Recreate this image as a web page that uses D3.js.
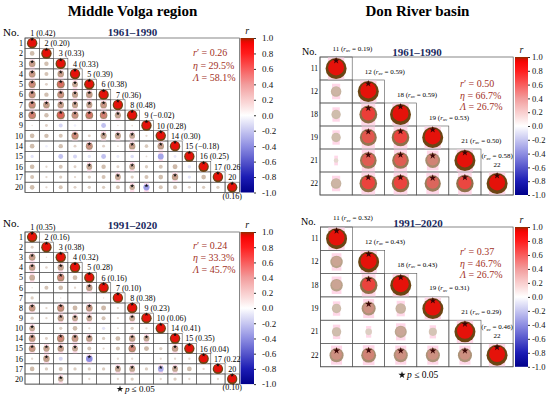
<!DOCTYPE html>
<html>
<head>
<meta charset="utf-8">
<script src="https://cdn.jsdelivr.net/npm/d3@7"></script>
<style>
body{margin:0;background:#fff;}
svg{display:block;font-family:"Liberation Serif","DejaVu Serif",serif;}
</style>
</head>
<body>
<script>
(function(){

//station numbers of each basin
var volgaStations = ["1","2","3","4","5","6","7","8","9","10","14","15","16","17","20"];
var donStations = ["11","12","18","19","21","22"];

//lower triangle of r, row k holds r with the stations before it
var volgaEarly = [
    [0.20],
    [0.40, 0.18],
    [0.42, 0.15, 0.38],
    [0.48, 0.08, 0.58, 0.32],
    [0.45, 0.18, 0.45, 0.35, 0.40],
    [0.48, 0.40, 0.38, 0.35, 0.35, 0.42],
    [0.52, 0.18, 0.62, 0.45, 0.55, 0.52, 0.35],
    [0.02, 0.08, -0.15, -0.06, 0.00, -0.22, 0.02, 0.03],
    [0.20, 0.18, 0.15, 0.48, 0.08, 0.35, 0.35, 0.32, 0.05],
    [0.20, -0.06, 0.18, 0.08, 0.45, 0.08, 0.03, 0.38, 0.12, 0.38],
    [-0.10, 0.00, -0.22, -0.15, -0.10, -0.22, -0.08, -0.12, 0.03, -0.32, -0.08],
    [0.20, 0.05, 0.15, 0.08, 0.32, 0.18, 0.08, 0.32, 0.10, 0.15, 0.22, -0.10],
    [0.15, 0.05, 0.10, 0.05, 0.10, 0.15, 0.32, 0.10, 0.15, 0.20, 0.38, -0.10, 0.20],
    [0.20, 0.05, 0.15, 0.08, 0.10, 0.10, 0.15, 0.28, -0.35, 0.15, 0.15, 0.08, 0.10, 0.10]
];
//1 = p <= 0.05
var volgaEarlySig = [
    [0],
    [1,0],
    [1,0,1],
    [1,0,1,1],
    [1,0,1,1,1],
    [1,1,1,1,1,1],
    [1,0,1,1,1,1,1],
    [0,0,0,0,0,0,0,0],
    [0,0,0,1,0,1,1,1,0],
    [0,0,0,0,1,0,0,1,0,1],
    [0,0,0,0,0,0,0,0,0,0,0],
    [0,0,0,0,1,0,0,1,0,0,0,0],
    [0,0,0,0,0,0,1,0,0,0,1,0,0],
    [0,0,0,0,0,0,0,1,1,0,0,0,0,0]
];
var volgaEarlyMean = ["0.42","0.20","0.33","0.33","0.39","0.38","0.36","0.48","\u22120.02","0.28","0.30","\u22120.18","0.25","0.26","0.16"];

var volgaLate = [
    [0.08],
    [0.40, 0.02],
    [0.38, 0.06, 0.36],
    [0.30, 0.00, 0.50, 0.20],
    [0.02, 0.15, 0.20, 0.05, 0.38],
    [0.10, 0.00, 0.02, 0.00, 0.00, 0.02],
    [0.42, 0.05, 0.48, 0.22, 0.42, 0.22, 0.05],
    [0.10, 0.05, 0.36, 0.32, 0.32, 0.15, 0.05, 0.32],
    [0.32, 0.00, 0.10, 0.20, 0.05, -0.10, 0.04, 0.10, 0.05],
    [0.42, 0.08, 0.50, 0.42, 0.38, 0.10, 0.20, 0.38, 0.32, 0.00],
    [0.42, 0.36, 0.38, 0.32, 0.15, 0.05, 0.15, 0.50, 0.22, 0.10, 0.38],
    [0.05, 0.38, -0.15, 0.00, -0.40, 0.00, 0.05, 0.05, 0.00, 0.05, 0.05, 0.05],
    [0.20, 0.10, 0.15, 0.10, 0.10, 0.10, 0.32, 0.32, 0.10, -0.30, 0.32, 0.20, 0.05],
    [0.00, 0.00, 0.28, 0.00, 0.05, 0.00, 0.05, 0.10, 0.00, 0.05, 0.10, 0.05, 0.00, 0.05]
];
var volgaLateSig = [
    [0],
    [1,0],
    [1,0,1],
    [0,0,1,0],
    [0,0,0,0,1],
    [0,0,0,0,0,0],
    [1,0,1,0,1,0,0],
    [0,0,1,1,1,0,0,1],
    [1,0,0,0,0,0,0,0,0],
    [1,0,1,1,1,0,0,1,1,0],
    [1,1,1,1,0,0,0,1,0,0,1],
    [0,1,0,0,1,0,0,0,0,0,0,0],
    [0,0,0,0,0,0,1,1,0,1,1,0,0],
    [0,0,1,0,0,0,0,0,0,0,0,0,0,0]
];
var volgaLateMean = ["0.35","0.16","0.38","0.32","0.28","0.16","0.10","0.38","0.23","0.06","0.41","0.35","0.04","0.22","0.10"];

var donEarly = [
    [0.25],
    [0.20, 0.72],
    [0.20, 0.65, 0.70],
    [0.05, 0.63, 0.63, 0.50],
    [0.25, 0.70, 0.70, 0.60, 0.69]
];
var donEarlySig = [
    [0],
    [0,1],
    [0,1,1],
    [0,1,1,1],
    [0,1,1,1,1]
];
var donEarlyMean = ["0.19","0.59","0.59","0.53","0.50","0.58"];

var donLate = [
    [0.35],
    [0.35, 0.70],
    [0.20, 0.45, 0.25],
    [0.20, 0.10, 0.33, 0.15],
    [0.45, 0.50, 0.45, 0.45, 0.45]
];
var donLateSig = [
    [0],
    [0,1],
    [0,1,0],
    [0,0,0,0],
    [1,1,1,1,1]
];
var donLateMean = ["0.32","0.43","0.43","0.31","0.29","0.46"];

//summary numbers: r', eta, lambda
var volgaEarlyStats = ["0.26","29.5%","58.1%"];
var volgaLateStats = ["0.24","33.3%","45.7%"];
var donEarlyStats = ["0.50","66.7%","26.7%"];
var donLateStats = ["0.37","46.7%","26.7%"];

var colorbarTicks = [1.0, 0.8, 0.6, 0.4, 0.2, 0.0, -0.2, -0.4, -0.6, -0.8, -1.0];

//begin drawing
var width = 550,
    height = 398;

var svg = d3.select("body")
    .append("svg")
    .attr("width", width)
    .attr("height", height);

//diverging colour scale for r
var colorScale = d3.scaleLinear()
    .domain([-1, -0.8, -0.4, 0, 0.4, 0.8, 0.95, 1])
    .range(["#00008b", "#1c1cb4", "#8e8ee2", "#ffffff", "#f29c9c", "#ff1c1c", "#f80000", "#8b3000"]);

//brown tone of the circle rims
var rimScale = d3.scaleLinear()
    .domain([0, 1])
    .range(["#efe4df", "#6b4513"]);

var defs = svg.append("defs");
var grad = defs.append("linearGradient")
    .attr("id", "rGrad")
    .attr("x1", 0).attr("y1", 1)
    .attr("x2", 0).attr("y2", 0);
d3.range(0, 1.0001, 0.02).forEach(function(t){
    grad.append("stop")
        .attr("offset", t)
        .attr("stop-color", colorScale(-1 + 2 * t));
});

//basin titles
svg.append("text")
    .attr("x", 132.5).attr("y", 16)
    .attr("text-anchor", "middle")
    .style("font-size", "15px").style("font-weight", "bold")
    .text("Middle Volga region");
svg.append("text")
    .attr("x", 417.5).attr("y", 16)
    .attr("text-anchor", "middle")
    .style("font-size", "15px").style("font-weight", "bold")
    .text("Don River basin");

var panels = [
    {stations: volgaStations, vals: volgaEarly, sig: volgaEarlySig, means: volgaEarlyMean, stats: volgaEarlyStats,
     period: "1961\u20131990", kind: "volga", x0: 25, top: 38, cellW: 14.29, cellH: 10.3, rmax: 5.2,
     barX: 240.5, barW: 13.5, statX: 193, statY: 56, statStep: 12.5, noX: 3, noY: 36, periodX: 132.5, periodY: 35.5},
    {stations: volgaStations, vals: volgaLate, sig: volgaLateSig, means: volgaLateMean, stats: volgaLateStats,
     period: "1991\u20132020", kind: "volga", x0: 25, top: 232, cellW: 14.29, cellH: 10.14, rmax: 5.2,
     barX: 240.5, barW: 13.5, statX: 193, statY: 249, statStep: 12, noX: 3, noY: 227, periodX: 132.5, periodY: 229,
     legend: true},
    {stations: donStations, vals: donEarly, sig: donEarlySig, means: donEarlyMean, stats: donEarlyStats,
     period: "1961\u20131990", kind: "don", x0: 320, top: 57, cellW: 32.2, cellH: 23, rmax: 10.5,
     barX: 515, barW: 13, statX: 460, statY: 87, statStep: 11.5, noX: 302, noY: 55, periodX: 417, periodY: 55.5},
    {stations: donStations, vals: donLate, sig: donLateSig, means: donLateMean, stats: donLateStats,
     period: "1991\u20132020", kind: "don", x0: 320.5, top: 227, cellW: 32.1, cellH: 23.3, rmax: 10.5,
     barX: 515, barW: 13, statX: 460, statY: 255, statStep: 11.5, noX: 301, noY: 225, periodX: 418, periodY: 227,
     legend: true}
];

panels.forEach(drawPanel);

function drawPanel(p){
    var n = p.stations.length,
        volga = p.kind == "volga";

    var x = d3.scaleBand().domain(p.stations).range([p.x0, p.x0 + n * p.cellW]);
    var y = d3.scaleBand().domain(p.stations).range([p.top, p.top + n * p.cellH]);
    var rScale = d3.scaleSqrt().domain([0, 1]).range([0, p.rmax]);

    var g = svg.append("g");

    //build lower triangle cells
    var cells = [];
    for (var i=0; i<n; i++){
        for (var j=0; j<=i; j++){
            cells.push({
                row: p.stations[i],
                col: p.stations[j],
                v: i == j ? 1 : p.vals[i-1][j],
                sig: i == j ? 1 : p.sig[i-1][j]
            });
        };
    };

    //frame and grid
    g.append("rect")
        .attr("x", p.x0).attr("y", p.top)
        .attr("width", n * p.cellW).attr("height", n * p.cellH)
        .attr("fill", "none").attr("stroke", "#555").attr("stroke-width", 0.7);
    g.selectAll(".cell")
        .data(cells)
        .enter()
        .append("rect")
        .attr("class", "cell")
        .attr("x", function(d){ return x(d.col); })
        .attr("y", function(d){ return y(d.row); })
        .attr("width", x.bandwidth()).attr("height", y.bandwidth())
        .attr("fill", "none").attr("stroke", "#555").attr("stroke-width", 0.6);

    var marks = cells.filter(function(d){ return Math.abs(d.v) > 0.001; });

    //pink shading behind circles
    g.selectAll(".shade")
        .data(marks.filter(function(d){ return !volga || Math.abs(d.v) >= 0.3 || d.sig; }))
        .enter()
        .append("rect")
        .attr("class", "shade")
        .attr("x", function(d){ return x(d.col) + x.bandwidth() / 2 - rScale(Math.abs(d.v)) * 0.78; })
        .attr("y", function(d){
            var h = Math.min(y.bandwidth() - 1, rScale(Math.abs(d.v)) * 2 + 5);
            return y(d.row) + (y.bandwidth() - h) / 2;
        })
        .attr("width", function(d){ return rScale(Math.abs(d.v)) * 1.56; })
        .attr("height", function(d){ return Math.min(y.bandwidth() - 1, rScale(Math.abs(d.v)) * 2 + 5); })
        .attr("fill", "#ffd3e6")
        .attr("opacity", volga ? 0.75 : 0.9);

    //outer circles: brown rim for positive r, blue for negative
    g.selectAll(".rim")
        .data(marks)
        .enter()
        .append("circle")
        .attr("class", "rim")
        .attr("cx", function(d){ return x(d.col) + x.bandwidth() / 2; })
        .attr("cy", function(d){ return y(d.row) + y.bandwidth() / 2; })
        .attr("r", function(d){ return rScale(Math.abs(d.v)); })
        .attr("fill", function(d){
            return d.v > 0 ? rimScale(Math.pow(d.v, 0.85)) : colorScale(d.v);
        });

    //inner red fill
    g.selectAll(".core")
        .data(marks.filter(function(d){ return d.v > 0.15; }))
        .enter()
        .append("circle")
        .attr("class", "core")
        .attr("cx", function(d){ return x(d.col) + x.bandwidth() / 2; })
        .attr("cy", function(d){ return y(d.row) + y.bandwidth() / 2 - rScale(d.v) * 0.1; })
        .attr("r", function(d){ return rScale(d.v) * 0.76; })
        .attr("fill", function(d){ return colorScale(Math.min(d.v, 0.9)); })
        .attr("opacity", function(d){ return Math.min(1, (d.v - 0.15) / 0.55) * 0.85; });

    //significance stars
    g.selectAll(".star")
        .data(marks.filter(function(d){ return d.sig; }))
        .enter()
        .append("path")
        .attr("class", "star")
        .attr("d", d3.symbol(d3.symbolStar, volga ? 5 : 15))
        .attr("transform", function(d){
            var cx = x(d.col) + x.bandwidth() / 2,
                cy = y(d.row) + y.bandwidth() / 2 - rScale(Math.abs(d.v)) + (volga ? 1.3 : 2.6);
            return "translate(" + cx + "," + cy + ")";
        })
        .attr("fill", volga ? "#111" : "#3a0505");

    //row labels
    g.selectAll(".rowLab")
        .data(p.stations)
        .enter()
        .append("text")
        .attr("class", "rowLab")
        .attr("x", p.x0 - 2)
        .attr("y", function(d){ return y(d) + y.bandwidth() / 2 + (volga ? 2.8 : 2.5); })
        .attr("text-anchor", "end")
        .style("font-size", volga ? "8px" : "7.5px")
        .text(function(d){ return d; });

    //station labels along the diagonal
    p.stations.forEach(function(s, i){
        var cx = x(s) + x.bandwidth() / 2,
            prevY = p.top + (i - 0.5) * p.cellH,
            last = i == n - 1;
        if (volga){
            g.append("text")
                .attr("x", cx - s.length * 2)
                .attr("y", prevY + 3)
                .style("font-size", "8px")
                .text(last ? s : s + " (" + p.means[i] + ")");
            if (last){
                g.append("text")
                    .attr("x", cx).attr("y", p.top + n * p.cellH + 6)
                    .attr("text-anchor", "middle")
                    .style("font-size", "8px")
                    .text("(" + p.means[i] + ")");
            };
        } else {
            var t = g.append("text").style("font-size", "7px");
            if (last){
                t.attr("x", cx).attr("y", prevY - 2.5).attr("text-anchor", "middle");
                g.append("text")
                    .attr("x", cx).attr("y", prevY + 6)
                    .attr("text-anchor", "middle")
                    .style("font-size", "7px")
                    .text(s);
                t.append("tspan").text("(");
            } else {
                t.attr("x", cx - s.length * 1.8).attr("y", prevY + 5);
                t.append("tspan").text(s + " (");
            };
            t.append("tspan").style("font-style", "italic").text("r");
            t.append("tspan").attr("dy", 1.5).style("font-size", "4.5px").text("av");
            t.append("tspan").attr("dy", -1.5).text(" = " + p.means[i] + ")");
        };
    });

    //headers
    g.append("text")
        .attr("x", p.noX).attr("y", p.noY)
        .style("font-size", volga ? "11px" : "10px")
        .text("No.");
    g.append("text")
        .attr("x", p.periodX).attr("y", p.periodY)
        .attr("text-anchor", "middle")
        .style("font-size", "11px").style("font-weight", "bold")
        .attr("fill", "#1b2a5e")
        .text(p.period);

    //summary statistics
    var symbols = ["r", "\u03b7", "\u039b"];
    p.stats.forEach(function(val, k){
        var t = g.append("text")
            .attr("x", p.statX).attr("y", p.statY + k * p.statStep)
            .style("font-size", "10px")
            .attr("fill", "#a3321f");
        t.append("tspan").style("font-style", "italic").text(symbols[k]);
        t.append("tspan").text((k == 0 ? "\u2032" : "") + " = " + val);
    });

    //colour bar
    var barTop = p.top,
        barBottom = p.top + n * p.cellH;
    g.append("rect")
        .attr("x", p.barX).attr("y", barTop)
        .attr("width", p.barW).attr("height", barBottom - barTop)
        .attr("fill", "url(#rGrad)");
    var barScale = d3.scaleLinear().domain([-1, 1]).range([barBottom, barTop]);
    var axis = g.append("g")
        .attr("transform", "translate(" + (p.barX + p.barW) + ",0)")
        .call(d3.axisRight(barScale)
            .tickValues(colorbarTicks)
            .tickSize(2)
            .tickPadding(volga ? 6 : 2)
            .tickFormat(function(d){ return d3.format(".1f")(d).replace("\u2212", "-"); }));
    axis.select(".domain").remove();
    axis.selectAll("text")
        .style("font-family", "Liberation Serif, DejaVu Serif, serif")
        .style("font-size", volga ? "9px" : "8.5px")
        .attr("fill", "#111");
    axis.selectAll("line").attr("stroke", "#333");
    g.append("text")
        .attr("x", p.barX + p.barW / 2).attr("y", barTop - 4)
        .attr("text-anchor", "middle")
        .attr("fill", "#111")
        .style("font-size", "10px").style("font-style", "italic")
        .text("r");

    //significance legend
    if (p.legend){
        var lx = volga ? 120 : 402,
            ly = volga ? 392 : 378;
        g.append("path")
            .attr("d", d3.symbol(d3.symbolStar, volga ? 14 : 16))
            .attr("transform", "translate(" + lx + "," + (ly - 3) + ")")
            .attr("fill", "#111");
        var lt = g.append("text")
            .attr("x", lx + 5).attr("y", ly)
            .style("font-size", volga ? "9px" : "9.5px");
        lt.append("tspan").style("font-style", "italic").text("p");
        lt.append("tspan").text(" \u2264 0.05");
    };
};

})();
</script>
</body>
</html>
